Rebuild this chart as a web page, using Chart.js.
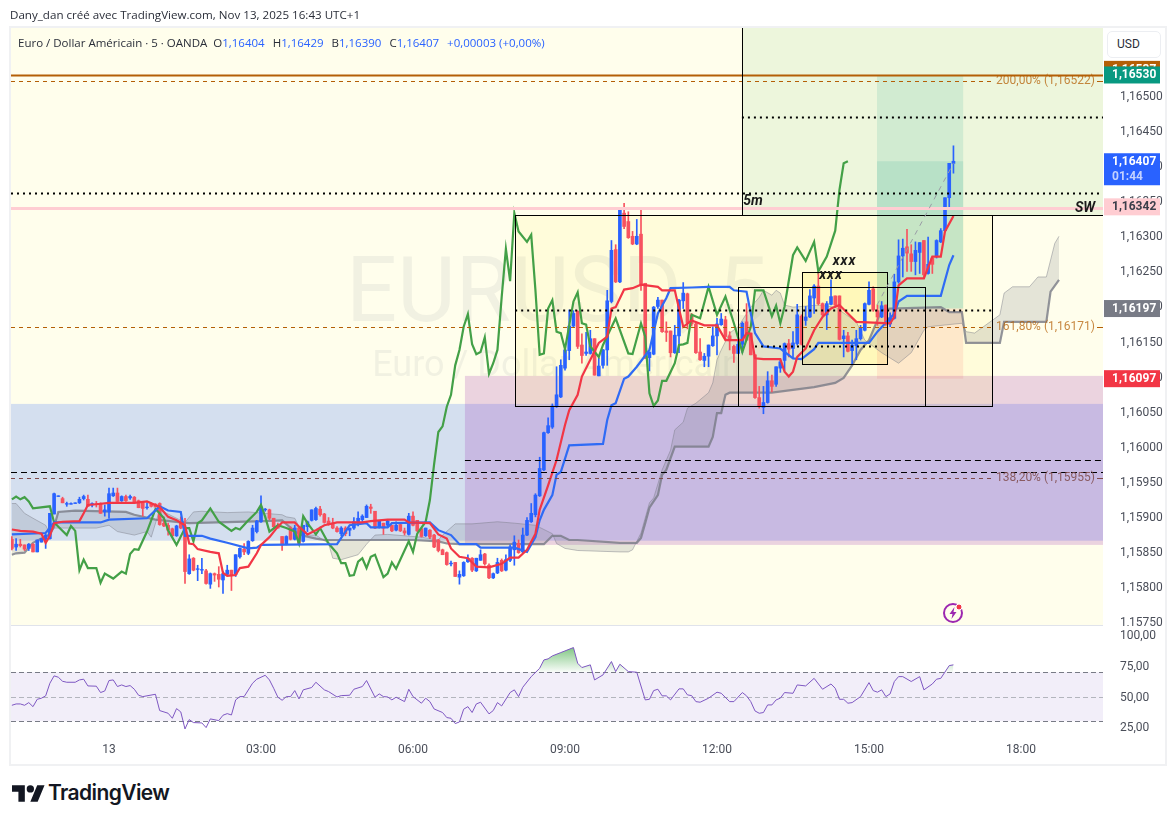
<!DOCTYPE html>
<html>
<head>
<meta charset="utf-8">
<title>EURUSD 5m</title>
<script src="https://cdn.jsdelivr.net/npm/chart.js"></script>
<style>
    html, body { margin: 0; padding: 0; background: #fff; width: 1175px; height: 824px; overflow: hidden; }
    canvas { position: absolute; left: 0; }
    #c1 { top: 0; }
    #c2 { top: 626px; }
    #frame { position: absolute; left: 9px; top: 26px; width: 1154px; height: 736px; border: 2px solid #f0f1f3; }
    #sep { position: absolute; left: 11px; top: 625px; width: 1092px; height: 1px; background: #e0e3eb; }
    #title { position: absolute; left: 10px; top: 7px; font: 11.6px "Open Sans", sans-serif; color: #2a2e39; white-space: nowrap; }
    #legend { position: absolute; left: 18px; top: 35px; font: 11.5px "Open Sans", sans-serif; color: #2a2e39; white-space: nowrap; }
    #legend b { font-weight: normal; color: #2962ff; margin-right: 5px; }
    #usd { position: absolute; left: 1107px; top: 31px; width: 52px; height: 25px; border: 1px solid #eceef2; border-radius: 5px; background: #fff;
           font: 12px Roboto, sans-serif; line-height: 25px; color: #2a2e39; text-indent: 9px; }
    #logo { position: absolute; left: 12px; top: 785px; }
    #brand { position: absolute; left: 48px; top: 780px; font: 600 21px Inter, sans-serif; color: #131722; letter-spacing: -0.6px; }
    #bolt { position: absolute; left: 942px; top: 601px; }
</style>
</head>
<body>
<canvas id="c1" width="1175" height="626"></canvas>
<canvas id="c2" width="1175" height="137"></canvas>
<div id="frame"></div>
<div id="sep"></div>
<div id="title">Dany_dan créé avec TradingView.com, Nov 13, 2025 16:43 UTC+1</div>
<div id="legend">Euro / Dollar Américain · 5 · OANDA&nbsp; O<b>1,16404</b> H<b>1,16429</b> B<b>1,16390</b> C<b>1,16407</b> <b>+0,00003 (+0,00%)</b></div>
<div id="usd">USD</div>
<svg id="logo" width="33" height="17" viewBox="0 4 36 18"><path fill="#131722" d="M14 22H7V11H0V4h14v18zM28 22h-8l7.5-18h8L28 22z"/><circle fill="#131722" cx="20" cy="8" r="4"/></svg>
<div id="brand">TradingView</div>
<svg id="bolt" width="23" height="23" viewBox="0 0 23 23"><circle cx="11" cy="12" r="9" fill="none" stroke="#9c27b0" stroke-width="2"/><path fill="#9c27b0" d="M12.5 6L7.5 13h3l-1 5 5-7h-3z"/><circle cx="17" cy="6" r="3" fill="#f23645" stroke="#fff"/></svg>

<script>
"use strict";

// first candle is this many bars before midnight, one bar = 5 minutes
const firstBar = -23;

const opens = [
    1.15868,1.15857,1.15861,1.15860,1.15855,1.15861,1.15850,1.15864,1.15868,1.15869,
    1.15904,1.15929,1.15926,1.15918,1.15918,1.15919,1.15920,1.15926,1.15925,1.15917,
    1.15919,1.15918,1.15907,1.15907,1.15930,1.15934,1.15923,1.15929,1.15927,1.15928,
    1.15923,1.15922,1.15913,1.15918,1.15918,1.15919,1.15891,1.15888,1.15883,1.15873,
    1.15891,1.15884,1.15819,1.15841,1.15825,1.15824,1.15823,1.15804,1.15819,1.15818,
    1.15810,1.15818,1.15824,1.15818,1.15843,1.15854,1.15848,1.15866,1.15879,1.15893,
    1.15910,1.15910,1.15898,1.15888,1.15872,1.15861,1.15884,1.15868,1.15884,1.15865,
    1.15886,1.15895,1.15896,1.15911,1.15904,1.15894,1.15891,1.15884,1.15876,1.15884,
    1.15881,1.15884,1.15891,1.15896,1.15899,1.15914,1.15908,1.15885,1.15891,1.15888,
    1.15888,1.15881,1.15889,1.15880,1.15875,1.15901,1.15895,1.15883,1.15873,1.15881,
    1.15874,1.15867,1.15853,1.15849,1.15833,1.15835,1.15814,1.15816,1.15836,1.15841,
    1.15823,1.15838,1.15847,1.15831,1.15813,1.15820,1.15838,1.15824,1.15838,1.15853,
    1.15862,1.15850,1.15874,1.15893,1.15903,1.15930,1.15967,
    1.16020,1.16028,1.16057,1.16071,1.16112,1.16137,1.16172,1.16193,1.16145,1.16133,
    1.16133,1.16154,1.16101,1.16116,1.16138,1.16207,1.16281,1.16235,1.16333,1.16321,
    1.16300,1.16289,1.16303,1.16233,1.16127,1.16132,1.16200,1.16209,1.16165,1.16165,
    1.16134,1.16158,1.16208,1.16218,1.16188,1.16175,1.16135,1.16123,1.16129,1.16144,
    1.16158,1.16174,1.16181,1.16158,1.16143,1.16133,1.16146,1.16178,1.16162,1.16131,
    1.16070,1.16056,1.16063,1.16094,1.16089,1.16112,1.16123,1.16147,1.16140,1.16147,
    1.16186,1.16180,1.16185,1.16212,1.16229,1.16204,1.16188,1.16203,1.16215,1.16215,
    1.16154,1.16158,1.16137,1.16144,1.16154,1.16166,1.16203,1.16225,1.16194,1.16185,
    1.16202,1.16175,1.16183,1.16235,1.16272,1.16285,1.16275,1.16264,1.16277,1.16294,
    1.16247,1.16269,1.16271,1.16292,1.16308,1.16355,1.16404
];
const highs = [
    1.15872,1.15869,1.15868,1.15860,1.15862,1.15862,1.15867,1.15869,1.15875,1.15905,
    1.15934,1.15930,1.15928,1.15921,1.15920,1.15920,1.15928,1.15931,1.15931,1.15920,
    1.15922,1.15920,1.15917,1.15941,1.15941,1.15941,1.15930,1.15931,1.15931,1.15929,
    1.15924,1.15922,1.15920,1.15920,1.15919,1.15920,1.15900,1.15891,1.15884,1.15888,
    1.15900,1.15898,1.15846,1.15842,1.15831,1.15841,1.15825,1.15820,1.15820,1.15829,
    1.15822,1.15831,1.15824,1.15846,1.15856,1.15862,1.15866,1.15888,1.15895,1.15930,
    1.15912,1.15911,1.15898,1.15891,1.15872,1.15873,1.15886,1.15888,1.15885,1.15888,
    1.15894,1.15910,1.15914,1.15915,1.15905,1.15899,1.15898,1.15886,1.15886,1.15886,
    1.15884,1.15899,1.15907,1.15903,1.15917,1.15918,1.15908,1.15895,1.15891,1.15895,
    1.15888,1.15893,1.15891,1.15884,1.15905,1.15907,1.15895,1.15884,1.15884,1.15882,
    1.15875,1.15868,1.15854,1.15850,1.15837,1.15835,1.15823,1.15836,1.15846,1.15842,
    1.15841,1.15853,1.15848,1.15833,1.15820,1.15841,1.15840,1.15846,1.15860,1.15873,
    1.15867,1.15884,1.15899,1.15919,1.15933,1.15985,1.16021,
    1.16041,1.16061,1.16114,1.16124,1.16139,1.16195,1.16194,1.16194,1.16161,1.16163,
    1.16166,1.16154,1.16126,1.16139,1.16223,1.16294,1.16288,1.16338,1.16347,1.16335,
    1.16307,1.16324,1.16337,1.16233,1.16135,1.16200,1.16213,1.16209,1.16178,1.16165,
    1.16173,1.16210,1.16234,1.16219,1.16190,1.16176,1.16154,1.16133,1.16145,1.16171,
    1.16183,1.16190,1.16186,1.16164,1.16145,1.16152,1.16178,1.16204,1.16162,1.16131,
    1.16086,1.16086,1.16107,1.16102,1.16114,1.16124,1.16148,1.16153,1.16164,1.16203,
    1.16188,1.16200,1.16224,1.16231,1.16250,1.16205,1.16207,1.16238,1.16215,1.16215,
    1.16166,1.16163,1.16152,1.16166,1.16173,1.16205,1.16235,1.16228,1.16202,1.16207,
    1.16202,1.16191,1.16246,1.16295,1.16296,1.16310,1.16288,1.16292,1.16291,1.16294,
    1.16299,1.16271,1.16295,1.16311,1.16355,1.16404,1.16429
];
const lows = [
    1.15853,1.15852,1.15857,1.15852,1.15852,1.15850,1.15850,1.15864,1.15855,1.15868,
    1.15904,1.15929,1.15920,1.15915,1.15918,1.15919,1.15919,1.15924,1.15915,1.15914,
    1.15914,1.15905,1.15901,1.15898,1.15929,1.15922,1.15922,1.15922,1.15925,1.15920,
    1.15913,1.15901,1.15911,1.15914,1.15914,1.15888,1.15886,1.15874,1.15871,1.15872,
    1.15883,1.15805,1.15818,1.15823,1.15809,1.15819,1.15804,1.15798,1.15808,1.15800,
    1.15791,1.15817,1.15795,1.15815,1.15841,1.15846,1.15846,1.15865,1.15877,1.15892,
    1.15908,1.15896,1.15884,1.15884,1.15852,1.15860,1.15867,1.15867,1.15862,1.15864,
    1.15879,1.15894,1.15895,1.15901,1.15891,1.15888,1.15883,1.15878,1.15873,1.15873,
    1.15873,1.15882,1.15887,1.15893,1.15899,1.15905,1.15883,1.15884,1.15875,1.15886,
    1.15879,1.15880,1.15879,1.15874,1.15874,1.15887,1.15879,1.15871,1.15872,1.15869,
    1.15856,1.15850,1.15846,1.15831,1.15830,1.15815,1.15804,1.15815,1.15835,1.15822,
    1.15822,1.15838,1.15831,1.15812,1.15812,1.15819,1.15822,1.15823,1.15836,1.15831,
    1.15848,1.15849,1.15873,1.15892,1.15900,1.15929,1.15966,
    1.16019,1.16026,1.16056,1.16070,1.16109,1.16124,1.16171,1.16140,1.16119,1.16130,
    1.16132,1.16102,1.16101,1.16112,1.16116,1.16205,1.16234,1.16234,1.16311,1.16297,
    1.16288,1.16288,1.16223,1.16126,1.16108,1.16131,1.16197,1.16163,1.16150,1.16128,
    1.16133,1.16134,1.16197,1.16168,1.16172,1.16133,1.16123,1.16114,1.16114,1.16143,
    1.16131,1.16173,1.16152,1.16138,1.16120,1.16133,1.16134,1.16152,1.16131,1.16069,
    1.16055,1.16047,1.16062,1.16078,1.16086,1.16106,1.16109,1.16128,1.16126,1.16145,
    1.16145,1.16173,1.16184,1.16190,1.16202,1.16186,1.16167,1.16202,1.16199,1.16152,
    1.16128,1.16135,1.16118,1.16124,1.16152,1.16165,1.16202,1.16193,1.16173,1.16184,
    1.16173,1.16171,1.16182,1.16233,1.16242,1.16250,1.16250,1.16245,1.16247,1.16241,
    1.16246,1.16247,1.16269,1.16291,1.16308,1.16340,1.16390
];
const closes = [
    1.15855,1.15861,1.15859,1.15854,1.15861,1.15850,1.15867,1.15869,1.15874,1.15905,
    1.15933,1.15930,1.15920,1.15919,1.15919,1.15920,1.15925,1.15929,1.15915,1.15919,
    1.15918,1.15905,1.15910,1.15933,1.15934,1.15922,1.15929,1.15923,1.15929,1.15920,
    1.15913,1.15912,1.15914,1.15915,1.15914,1.15889,1.15887,1.15881,1.15873,1.15887,
    1.15884,1.15822,1.15840,1.15824,1.15826,1.15825,1.15805,1.15819,1.15817,1.15811,
    1.15819,1.15824,1.15816,1.15846,1.15855,1.15850,1.15865,1.15884,1.15894,1.15914,
    1.15911,1.15898,1.15886,1.15884,1.15860,1.15872,1.15868,1.15884,1.15862,1.15888,
    1.15893,1.15910,1.15912,1.15903,1.15892,1.15889,1.15884,1.15879,1.15884,1.15876,
    1.15884,1.15893,1.15898,1.15901,1.15915,1.15912,1.15884,1.15894,1.15884,1.15894,
    1.15880,1.15888,1.15880,1.15877,1.15901,1.15888,1.15880,1.15872,1.15884,1.15871,
    1.15857,1.15852,1.15846,1.15832,1.15834,1.15815,1.15818,1.15835,1.15841,1.15824,
    1.15841,1.15846,1.15833,1.15813,1.15819,1.15835,1.15823,1.15839,1.15857,1.15864,
    1.15849,1.15874,1.15895,1.15905,1.15931,1.15969,1.16020,
    1.16030,1.16058,1.16074,1.16116,1.16138,1.16172,1.16190,1.16143,1.16130,1.16135,
    1.16154,1.16102,1.16115,1.16138,1.16208,1.16280,1.16235,1.16338,1.16314,1.16298,
    1.16289,1.16300,1.16231,1.16126,1.16135,1.16199,1.16209,1.16164,1.16163,1.16134,
    1.16159,1.16209,1.16219,1.16177,1.16175,1.16134,1.16124,1.16129,1.16145,1.16158,
    1.16175,1.16182,1.16157,1.16151,1.16133,1.16146,1.16176,1.16152,1.16131,1.16070,
    1.16057,1.16063,1.16094,1.16086,1.16114,1.16121,1.16147,1.16139,1.16148,1.16188,
    1.16146,1.16185,1.16215,1.16229,1.16204,1.16188,1.16204,1.16214,1.16202,1.16153,
    1.16158,1.16136,1.16145,1.16154,1.16169,1.16204,1.16223,1.16195,1.16185,1.16201,
    1.16175,1.16184,1.16235,1.16272,1.16283,1.16276,1.16264,1.16280,1.16291,1.16245,
    1.16260,1.16260,1.16294,1.16308,1.16355,1.16404,1.16407
];

const tenkanBars = [-23,-21,-18,-16,-15,-14,-13,-11,-7,-6,-5,-3,0,6,9,12,14,16,18,19,20,21,24,26,27,28,30,31,33,35,36,38,40,41,44,45,47,49,51,54,60,62,66,70,71,76,78,80,81,83,85,87,90,93,95,97,99,101,102,104,106,108,109,111,112,114,116,118,119,120,122,124,126,130,131,134,136,138,141,144,146,150,151,152,153,155,159,160,161,162,163,165,167,169,171,173,175,177,181,185,186,187,189,193,195,197,198,200];
const tenkanPrices = [1.15882,1.15880,1.15879,1.15876,1.15863,1.15873,1.15891,1.15893,1.15894,1.15905,1.15917,1.15918,1.15920,1.15920,1.15922,1.15914,1.15900,1.15895,1.15888,1.15862,1.15861,1.15854,1.15850,1.15848,1.15820,1.15816,1.15817,1.15827,1.15829,1.15848,1.15860,1.15871,1.15886,1.15892,1.15892,1.15886,1.15875,1.15881,1.15888,1.15892,1.15892,1.15894,1.15896,1.15896,1.15892,1.15891,1.15875,1.15869,1.15855,1.15843,1.15841,1.15829,1.15828,1.15833,1.15842,1.15842,1.15853,1.15876,1.15910,1.15945,1.15981,1.16031,1.16052,1.16074,1.16100,1.16124,1.16148,1.16157,1.16197,1.16199,1.16224,1.16226,1.16231,1.16228,1.16223,1.16223,1.16171,1.16180,1.16173,1.16173,1.16152,1.16152,1.16162,1.16161,1.16126,1.16125,1.16125,1.16107,1.16100,1.16107,1.16128,1.16140,1.16166,1.16185,1.16197,1.16202,1.16190,1.16178,1.16177,1.16176,1.16185,1.16230,1.16240,1.16240,1.16271,1.16271,1.16307,1.16329];

const kijunBars = [-23,-15,-13,-2,0,9,12,14,17,18,22,24,28,33,35,36,54,56,57,61,62,66,67,76,78,81,83,87,88,96,99,101,102,103,105,106,107,109,117,118,119,120,122,123,125,128,130,132,133,138,142,147,148,151,152,153,155,159,162,164,167,168,180,182,186,187,189,197,199,200];
const kijunPrices = [1.15875,1.15877,1.15892,1.15892,1.15896,1.15898,1.15915,1.15909,1.15907,1.15873,1.15873,1.15869,1.15863,1.15855,1.15856,1.15860,1.15861,1.15879,1.15888,1.15891,1.15885,1.15885,1.15891,1.15892,1.15881,1.15874,1.15861,1.15861,1.15856,1.15856,1.15850,1.15871,1.15895,1.15910,1.15931,1.15960,1.15964,1.16002,1.16004,1.16038,1.16059,1.16062,1.16097,1.16100,1.16114,1.16138,1.16190,1.16212,1.16226,1.16227,1.16228,1.16228,1.16223,1.16221,1.16190,1.16162,1.16143,1.16140,1.16126,1.16125,1.16139,1.16148,1.16148,1.16164,1.16190,1.16207,1.16215,1.16215,1.16259,1.16273];

const chikouBars = [-23,-22,-21,-20,-19,-18,-14,-13,-10,-9,-8,-7,-6,-5,-3,-2,-1,1,3,4,5,6,7,9,11,12,13,14,16,18,19,20,21,22,24,26,29,30,31,33,35,36,37,38,40,42,44,45,46,47,49,50,52,54,55,56,57,58,59,60,61,62,63,65,66,67,68,71,72,73,75,76,77,78,79,80,81,82,83,84,85,86,87,88,89,90,91,92,93,94,95,96,97,99,100,101,102,103,104,105,106,107,108,110,111,112,113,114,116,117,120,123,124,126,127,128,129,130,131,132,134,135,136,137,138,140,142,144,146,148,150,152,153,155,157,158,159,160,162,163,165,167,168,170,172,173,174,175];
const chikouPrices = [1.15925,1.15929,1.15925,1.15928,1.15922,1.15912,1.15915,1.15892,1.15874,1.15887,1.15880,1.15824,1.15839,1.15827,1.15827,1.15806,1.15819,1.15812,1.15822,1.15819,1.15847,1.15854,1.15853,1.15879,1.15911,1.15905,1.15898,1.15881,1.15860,1.15884,1.15884,1.15865,1.15891,1.15895,1.15912,1.15893,1.15880,1.15884,1.15882,1.15895,1.15907,1.15917,1.15900,1.15879,1.15888,1.15884,1.15879,1.15862,1.15901,1.15891,1.15875,1.15884,1.15862,1.15848,1.15834,1.15834,1.15816,1.15817,1.15836,1.15841,1.15827,1.15843,1.15846,1.15814,1.15819,1.15835,1.15826,1.15865,1.15850,1.15876,1.15893,1.15924,1.15975,1.16021,1.16029,1.16057,1.16074,1.16116,1.16138,1.16171,1.16189,1.16146,1.16132,1.16135,1.16156,1.16104,1.16119,1.16138,1.16213,1.16282,1.16236,1.16333,1.16307,1.16292,1.16302,1.16223,1.16131,1.16133,1.16197,1.16209,1.16164,1.16162,1.16139,1.16207,1.16220,1.16176,1.16174,1.16143,1.16128,1.16145,1.16183,1.16133,1.16132,1.16176,1.16157,1.16076,1.16058,1.16066,1.16094,1.16094,1.16119,1.16145,1.16146,1.16148,1.16188,1.16183,1.16228,1.16188,1.16214,1.16176,1.16135,1.16171,1.16223,1.16223,1.16186,1.16201,1.16176,1.16200,1.16273,1.16284,1.16265,1.16292,1.16250,1.16271,1.16308,1.16366,1.16404,1.16407];

const spanABars = [-23,-22,-20,-18,-15,-14,-13,-3,0,2,6,9,10,12,18,20,22,28,33,41,42,44,46,49,52,53,55,59,61,63,66,70,74,78,79,82,86,92,96,101,105,106,108,111,121,123,124,126,128,129,131,133,134,136,137,139,142,143,144,145,147,149,152,154,155,157,158,159,160,162,168,172,177,179,183,187,190,193,194,202,203,205,211,212,214,218,220,222,224,225];
const spanAPrices = [1.15919,1.15919,1.15905,1.15898,1.15888,1.15876,1.15884,1.15884,1.15888,1.15879,1.15874,1.15879,1.15871,1.15910,1.15892,1.15907,1.15908,1.15906,1.15907,1.15903,1.15900,1.15898,1.15874,1.15874,1.15862,1.15841,1.15839,1.15846,1.15861,1.15874,1.15875,1.15873,1.15871,1.15867,1.15874,1.15890,1.15890,1.15893,1.15891,1.15888,1.15876,1.15862,1.15855,1.15852,1.15850,1.15850,1.15853,1.15877,1.15920,1.15927,1.15967,1.15995,1.16024,1.16035,1.16055,1.16062,1.16077,1.16091,1.16124,1.16138,1.16162,1.16171,1.16199,1.16213,1.16223,1.16216,1.16223,1.16219,1.16202,1.16199,1.16202,1.16199,1.16178,1.16152,1.16134,1.16119,1.16134,1.16166,1.16171,1.16176,1.16164,1.16162,1.16188,1.16219,1.16228,1.16228,1.16242,1.16242,1.16290,1.16300];

const spanBBars = [-23,-22,-20,-18,-16,-14,-13,-12,-8,4,6,11,17,19,37,41,44,46,49,51,72,78,80,83,103,105,107,109,111,121,125,126,127,128,130,131,132,134,142,143,144,145,146,147,157,167,172,174,176,178,180,183,185,197,199,202,203,211,212,222,223,225];
const spanBPrices = [1.15846,1.15848,1.15849,1.15863,1.15869,1.15875,1.15886,1.15907,1.15909,1.15907,1.15903,1.15896,1.15892,1.15891,1.15894,1.15895,1.15879,1.15873,1.15869,1.15867,1.15867,1.15865,1.15862,1.15861,1.15861,1.15873,1.15873,1.15867,1.15867,1.15863,1.15863,1.15870,1.15891,1.15913,1.15931,1.15960,1.15967,1.16000,1.16000,1.16014,1.16048,1.16048,1.16074,1.16077,1.16077,1.16085,1.16091,1.16098,1.16116,1.16138,1.16152,1.16195,1.16197,1.16199,1.16192,1.16192,1.16148,1.16148,1.16178,1.16178,1.16221,1.16238];

const rsiBars = [-23,-22,-21,-20,-19,-18,-17,-16,-15,-14,-13,-12,-11,-10,-8,-7,-6,-5,-3,-2,-1,0,1,2,3,4,5,6,7,8,11,12,14,15,16,17,18,19,20,22,23,24,26,27,28,29,30,31,32,34,35,37,38,39,40,41,42,43,44,45,46,48,49,51,52,54,55,57,58,60,61,63,64,65,66,67,68,70,71,72,74,75,76,77,79,80,81,82,83,84,85,86,87,88,90,91,92,93,95,96,97,98,100,102,103,104,105,107,110,111,112,114,115,117,119,120,121,123,125,127,128,129,130,131,132,133,135,136,137,138,139,140,142,144,145,147,148,150,151,152,153,154,155,156,157,158,159,160,162,163,165,167,169,171,172,173,174,175,176,178,180,181,182,183,184,185,186,187,188,190,192,193,195,196,197,199,200];
const rsiValues = [43,44.1,44.1,43,45.2,41.9,47.9,48.8,50.7,61,67,65.9,62.6,61.8,61.8,63.7,64.3,58.8,58.6,53.4,54.7,63.2,63.7,58.3,59.6,58.3,59.1,56.1,51.2,50.1,52,38.7,36.5,32.4,40.3,37.6,23.7,31.3,28.9,28.6,24.8,31.9,30.5,34.9,36.2,35.1,47.4,50.1,50.1,61,64.3,67.5,63.7,56.9,49.6,47.1,50.1,50.1,55,48.2,55.6,57.5,61.8,55.6,54.2,49.8,50.9,51.2,56.1,58.3,63.2,49.6,52.3,50.1,49.8,47.4,49.6,46,56.1,50.1,44.7,48.8,46,40,37.1,33,32.4,28.1,29.4,39.8,41.9,37.1,44.1,45.5,36,38.7,45.2,42.5,53.4,55.6,50.1,57.7,66.4,73.2,80,80.9,83.3,86,90.1,77.3,73.8,76,63.7,67.8,78.7,70.5,76.5,70.5,70,47.4,47.9,55,56.1,50.7,50.7,47.4,56.4,56.4,51.5,50.9,46,45.5,48.8,53.7,52.8,46,46,53.4,50.7,46,38.4,36.5,37.1,43.3,43.3,47.4,48.8,53.4,52.8,59.6,58.8,65,56.1,60.4,56.9,47.9,47.9,44.7,45.2,50.1,61.5,55,53.7,55.6,50.1,52.3,62.4,66.4,66.4,62.4,66.4,55.6,60.4,64.3,65,75.4,76];

const priceTicks = [1.1575,1.158,1.1585,1.159,1.1595,1.16,1.1605,1.161,1.1615,1.162,1.1625,1.163,1.1635,1.164,1.1645,1.165];
const rsiTicks = [25,50,75,100];
const timeBars = [0,36,72,108,144,180,216];
const timeLabels = ["13","03:00","06:00","09:00","12:00","15:00","18:00"];

// drawing tool levels, as [first bar, last bar, top price, bottom price]
const barMin = -23.21, barMax = 235.42, priceMin = 1.157458, priceMax = 1.165984;
const blueZone = [barMin, barMax, 1.16061, 1.15866];
const pinkZone = [84.3, barMax, 1.16101, 1.15860];
const greenZone = [149.9, barMax, priceMax, 1.16330];
const targetZone = [181.9, 202.3, 1.16530, 1.16197];
const runningZone = [181.9, 202.3, 1.16407, 1.16197];
const stopZone = [181.9, 202.3, 1.16197, 1.16097];
const bigBox = [96.2, 209.1, 1.16330, 1.16058];
const middleBox = [149, 193.3, 1.16228, 1.16058];
const smallBox = [164.1, 184.3, 1.16249, 1.16118];

// [first bar, last bar, price]
const dottedLevels = [[barMin, barMax, 1.16362], [149.9, barMax, 1.16470], [96.2, 209.1, 1.16195], [153, 192.1, 1.161435]];
const dashedLevels = [[84.3, barMax, 1.15981], [barMin, barMax, 1.15964]];
const fibPrices = [1.16522, 1.16171, 1.15955];
const fibLabels = ["200,00% (1,16522)", "161,80% (1,16171)", "138,20% (1,15955)"];
const pinkLevel = 1.16340;
const brownLevel = 1.16530;
const swingLevel = [96.2, barMax, 1.16330];
const verticalBar = 149.9;
const projectionBars = [181.9, 200];
const projectionPrices = [1.16202, 1.16404];

// [label, price]
const notes = [["SW", 1085, 1.16339], ["5m", 753, 1.16350]];
const xxxNotes = [[174.2, 1.16264], [171, 1.16244]];

const tagTexts = ["1,16537", "1,16530", "1,16407", "1,16342", "1,16197", "1,16097"];
const tagPrices = [1.16538, 1.16530, 1.16407, 1.16342, 1.16197, 1.16097];
const tagColors = ["#b45f06", "#089981", "#2962ff", "#ffcdd2", "#787b86", "#f23645"];
const countdown = "01:44";

const upColor = "#2962ff", downColor = "#f7525f";
const axisFont = { family: "Roboto", size: 12 };
const axisColor = "#4a4e59";

function comma(v, digits) {
    return v.toFixed(digits).replace(".", ",");
}
function pairs(xs, ys) {
    return xs.map((x, n) => ({ x: x, y: ys[n] }));
}
function lineSet(xs, ys, color, width, order, extra) {
    return Object.assign({
        type: "line", data: pairs(xs, ys), borderColor: color, borderWidth: width, pointRadius: 0, tension: 0, fill: false, order: order
    }, extra || {});
}
// no room for label overhang, the panes must fill their canvas exactly
function fitAxis(s) {
    s.width = 62;
    s.paddingTop = 0;
    s.paddingBottom = 0;
}

let wicks = opens.map((o, n) => ({ x: firstBar + n, y: [lows[n], highs[n]] }));
let bodies = opens.map((o, n) => ({ x: firstBar + n, y: [o, closes[n]] }));
let candleColors = opens.map((o, n) => closes[n] >= o ? upColor : downColor);

let drawings = {
    id: "drawings",
    beforeDatasetsDraw(chart) {
        let c = chart.ctx, x = chart.scales.x, y = chart.scales.y, a = chart.chartArea;
        let zone = (z, color) => {
            c.fillStyle = color;
            c.fillRect(x.getPixelForValue(z[0]), y.getPixelForValue(z[2]), x.getPixelForValue(z[1]) - x.getPixelForValue(z[0]), y.getPixelForValue(z[3]) - y.getPixelForValue(z[2]));
        };
        c.save();
        c.fillStyle = "#fffeec";
        c.fillRect(a.left, a.top, a.width, a.height);

        c.textAlign = "center";
        c.textBaseline = "middle";
        c.fillStyle = "rgba(120,123,134,0.1)";
        c.font = "90px Roboto";
        c.fillText("EURUSD, 5", 557, 298);
        c.font = "36px Roboto";
        c.fillText("Euro / Dollar Américain", 557, 367);

        zone(blueZone, "rgba(41,98,255,0.2)");
        zone(pinkZone, "rgba(156,39,176,0.2)");
        zone(greenZone, "rgba(76,175,80,0.1)");
        zone(bigBox, "rgba(255,235,59,0.1)");
        zone(smallBox, "rgba(255,235,59,0.2)");
        zone(targetZone, "rgba(8,153,129,0.12)");
        zone(runningZone, "rgba(8,153,129,0.12)");
        zone(stopZone, "rgba(242,54,69,0.1)");
        c.restore();
    },
    afterDatasetsDraw(chart) {
        let c = chart.ctx, x = chart.scales.x, y = chart.scales.y, a = chart.chartArea;
        let px = v => x.getPixelForValue(v), py = v => y.getPixelForValue(v);
        let hline = (x0, x1, p, color, width, dash) => {
            c.strokeStyle = color;
            c.lineWidth = width;
            c.setLineDash(dash);
            c.beginPath();
            c.moveTo(x0, Math.round(py(p)) + 0.5);
            c.lineTo(x1, Math.round(py(p)) + 0.5);
            c.stroke();
        };
        c.save();
        c.beginPath();
        c.rect(a.left, a.top, a.width, a.height);
        c.clip();

        hline(a.left, a.right, pinkLevel, "#ffcdd2", 3, []);
        hline(a.left, a.right, brownLevel, "#b45f06", 2, []);
        hline(px(swingLevel[0]), px(swingLevel[1]), swingLevel[2], "#000", 1, []);
        dottedLevels.forEach(l => hline(px(l[0]), px(l[1]), l[2], "#000", 2, [2, 4]));
        dashedLevels.forEach(l => hline(px(l[0]), px(l[1]), l[2], "#000", 1, [6, 4]));

        c.font = "12px Roboto";
        c.textAlign = "right";
        c.textBaseline = "middle";
        fibPrices.forEach((p, n) => {
            let color = n == 2 ? "#7f4a4a" : "#b45f06";
            let left = a.right - 8 - c.measureText(fibLabels[n]).width;
            hline(a.left, left - 4, p, color, 1, [4, 4]);
            hline(a.right - 6, a.right, p, color, 1, []);
            c.fillStyle = n == 2 ? "rgba(127,74,74,0.85)" : "rgba(180,95,6,0.75)";
            c.fillText(fibLabels[n], a.right - 8, py(p));
        });

        [bigBox, middleBox, smallBox].forEach(b => {
            c.strokeStyle = "#000";
            c.lineWidth = 1;
            c.setLineDash([]);
            c.strokeRect(Math.round(px(b[0])) + 0.5, Math.round(py(b[2])) + 0.5, Math.round(px(b[1]) - px(b[0])), Math.round(py(b[3]) - py(b[2])));
        });

        c.strokeStyle = "#000";
        c.beginPath();
        c.moveTo(Math.round(px(verticalBar)) + 0.5, a.top);
        c.lineTo(Math.round(px(verticalBar)) + 0.5, py(swingLevel[2]));
        c.stroke();

        c.strokeStyle = "#9a9da6";
        c.lineWidth = 1;
        c.setLineDash([5, 5]);
        c.beginPath();
        c.moveTo(px(projectionBars[0]), py(projectionPrices[0]));
        c.lineTo(px(projectionBars[1]), py(projectionPrices[1]));
        c.stroke();
        c.setLineDash([]);

        c.fillStyle = "#1a1a1a";
        c.font = "italic bold 14px Roboto";
        c.textAlign = "center";
        notes.forEach(n => c.fillText(n[0], n[1], py(n[2])));
        c.letterSpacing = "1px";
        xxxNotes.forEach(n => c.fillText("xxx", px(n[0]), py(n[1])));
        c.letterSpacing = "0px";
        c.restore();
    },
    afterDraw(chart) {
        let c = chart.ctx, y = chart.scales.y, a = chart.chartArea;
        c.save();
        c.textAlign = "left";
        c.textBaseline = "middle";
        tagTexts.forEach((t, n) => {
            let mid = y.getPixelForValue(tagPrices[n]);
            let high = t == "1,16407" ? 32 : 17;
            let top = t == "1,16407" ? mid - 8 : mid - 8.5;
            c.fillStyle = tagColors[n];
            c.fillRect(a.right + 1, top, 56, high);
            c.font = "bold 12px Roboto";
            c.fillStyle = tagColors[n] == "#ffcdd2" ? "#3a3e4a" : "#fff";
            c.fillText(t, a.right + 9, mid + 0.5);
            if (t == "1,16407") {
                c.fillStyle = "#c3d2ff";
                c.fillText(countdown, a.right + 9, mid + 15.5);
            }
        });
        c.restore();
    }
};

let rsiBandsPlugin = {
    id: "rsiBands",
    beforeDatasetsDraw(chart) {
        let c = chart.ctx, y = chart.scales.y, a = chart.chartArea;
        c.save();
        c.fillStyle = "rgba(126,87,194,0.1)";
        c.fillRect(a.left, y.getPixelForValue(70), a.width, y.getPixelForValue(30) - y.getPixelForValue(70));
        [[70, "#787b86"], [50, "#b3b5bd"], [30, "#787b86"]].forEach(l => {
            c.strokeStyle = l[1];
            c.lineWidth = 1;
            c.setLineDash([5, 3]);
            c.beginPath();
            c.moveTo(a.left, Math.round(y.getPixelForValue(l[0])) + 0.5);
            c.lineTo(a.right, Math.round(y.getPixelForValue(l[0])) + 0.5);
            c.stroke();
        });
        c.restore();
    }
};

let c1 = document.querySelector("#c1");
let params1 = {
    type: "bar",
    data: {
        datasets: [
            lineSet(spanABars, spanAPrices, "rgba(120,123,134,0.45)", 1, 8, { fill: { target: "+1", above: "rgba(120,123,134,0.2)", below: "rgba(120,123,134,0.2)" } }),
            lineSet(spanBBars, spanBPrices, "rgba(120,123,134,0.8)", 2.2, 7),
            { data: wicks, backgroundColor: candleColors, barThickness: 1, grouped: false, order: 6, borderWidth: 0 },
            { data: bodies, backgroundColor: candleColors, barThickness: 3, grouped: false, order: 5, borderWidth: 0 },
            lineSet(chikouBars, chikouPrices, "#43a047", 2.2, 3),
            lineSet(kijunBars, kijunPrices, "#2f6bf5", 2.2, 2),
            lineSet(tenkanBars, tenkanPrices, "#f23645", 2.2, 1)
        ]
    },
    options: {
        responsive: false,
        animation: false,
        devicePixelRatio: 1,
        layout: { autoPadding: false, padding: { left: 11, right: 10, top: 27, bottom: 1 } },
        plugins: { legend: { display: false }, tooltip: { enabled: false } },
        scales: {
            x: { type: "linear", min: barMin, max: barMax, offset: false, display: false },
            y: {
                position: "right", min: priceMin, max: priceMax,
                grid: { display: false }, border: { display: false },
                afterFit: fitAxis,
                afterBuildTicks(s) { s.ticks = priceTicks.map(v => ({ value: v })); },
                ticks: { padding: 9, labelOffset: 1, font: axisFont, color: axisColor, callback: v => comma(v, 5) }
            }
        }
    },
    plugins: [drawings]
};
new Chart(c1, params1);

let c2 = document.querySelector("#c2");
let overbought = c2.getContext("2d").createLinearGradient(0, 20, 0, 46);
overbought.addColorStop(0, "rgba(76,175,80,0.75)");
overbought.addColorStop(1, "rgba(76,175,80,0.03)");

let params2 = {
    type: "line",
    data: {
        datasets: [
            { data: pairs(rsiBars, rsiValues), borderColor: "#7e57c2", borderWidth: 1, pointRadius: 0, tension: 0,
              fill: { target: { value: 70 }, above: overbought, below: "transparent" } }
        ]
    },
    options: {
        responsive: false,
        animation: false,
        devicePixelRatio: 1,
        layout: { autoPadding: false, padding: { left: 11, right: 10, top: 0, bottom: 0 } },
        plugins: { legend: { display: false }, tooltip: { enabled: false } },
        scales: {
            x: {
                type: "linear", min: barMin, max: barMax,
                grid: { display: false, tickLength: 0 }, border: { display: false },
                afterFit(s) { s.height = 24; },
                afterBuildTicks(s) { s.ticks = timeBars.map(v => ({ value: v })); },
                ticks: { padding: 4, maxRotation: 0, autoSkip: false, font: axisFont, color: axisColor, callback: v => timeLabels[timeBars.indexOf(v)] }
            },
            y: {
                position: "right", min: 15.5, max: 107.7,
                grid: { display: false }, border: { display: false },
                afterFit: fitAxis,
                afterBuildTicks(s) { s.ticks = rsiTicks.map(v => ({ value: v })); },
                ticks: { padding: 9, labelOffset: 1, font: axisFont, color: axisColor, callback: v => comma(v, 2) }
            }
        }
    },
    plugins: [rsiBandsPlugin]
};
new Chart(c2, params2);
</script>
</body>
</html>
